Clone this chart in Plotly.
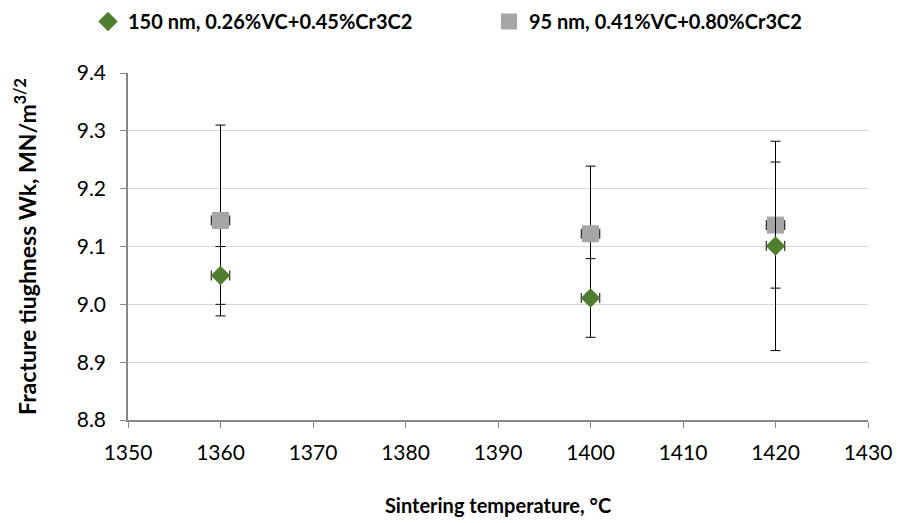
import plotly.graph_objects as go

temps = [1360, 1400, 1420]
s1_name = "150 nm, 0.26%VC+0.45%Cr3C2"
s1_y = [9.05, 9.011, 9.101]
s1_err = [0.05, 0.068, 0.181]
s2_name = "95 nm, 0.41%VC+0.80%Cr3C2"
s2_y = [9.145, 9.122, 9.137]
s2_err = [0.165, 0.117, 0.109]
x_err = [1, 1, 1]

FONT = "Lato"

fig = go.Figure()
fig.add_trace(go.Scatter(
    x=temps, y=s2_y, mode="markers", name=s2_name, legend="legend2",
    marker=dict(symbol="square", size=17, color="#a6a6a6"),
    error_y=dict(type="data", array=s2_err, color="black", thickness=1, width=5),
    error_x=dict(type="data", array=x_err, color="black", thickness=1, width=5),
))
fig.add_trace(go.Scatter(
    x=temps, y=s1_y, mode="markers", name=s1_name, legend="legend",
    marker=dict(symbol="diamond", size=15, color="#4f7f2e"),
    error_y=dict(type="data", array=s1_err, color="black", thickness=1, width=5),
    error_x=dict(type="data", array=x_err, color="black", thickness=1, width=5),
))

leg_font = dict(family=FONT, size=20, color="black", weight="bold")
fig.update_layout(
    width=898, height=523,
    margin=dict(l=128, r=30, t=73, b=103, autoexpand=False),
    plot_bgcolor="white", paper_bgcolor="white",
    font=dict(family=FONT, size=20, color="black"),
    showlegend=True,
    legend=dict(orientation="h", xref="container", x=88 / 898, xanchor="left",
                yref="container", y=1 - 2 / 523, yanchor="top",
                font=leg_font, itemwidth=30),
    legend2=dict(orientation="h", xref="container", x=489 / 898, xanchor="left",
                 yref="container", y=1 - 2 / 523, yanchor="top",
                 font=leg_font, itemwidth=30),
    xaxis=dict(range=[1350, 1430], dtick=10, showgrid=False, zeroline=False,
               showline=True, linecolor="#868686", linewidth=1.5,
               ticks="outside", ticklen=6, tickcolor="#868686",
               tickfont=dict(size=21), ticklabelstandoff=7,
               title=dict(text="<b>Sintering temperature, °C</b>", font=dict(size=20), standoff=36)),
    yaxis=dict(range=[8.8, 9.4], dtick=0.1, tickformat=".1f", showgrid=True,
               gridcolor="#d9d9d9", gridwidth=1.2, zeroline=False,
               showline=True, linecolor="#868686", linewidth=1.5,
               ticks="outside", ticklen=6, tickcolor="#868686",
               tickfont=dict(size=21), ticklabelstandoff=10,
               title=dict(text="<b>Fracture tiughness Wk, MN/m<sup>3/2</sup></b>", font=dict(size=23), standoff=34)),
)

fig.write_html("out.html")
